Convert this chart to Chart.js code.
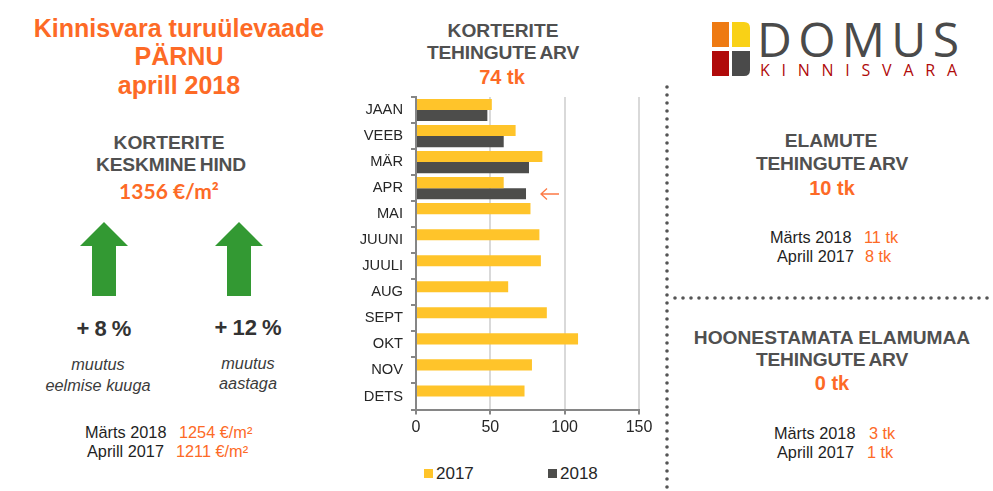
<!DOCTYPE html>
<html lang="et">
<head>
<meta charset="utf-8">
<title>Kinnisvara turuülevaade</title>
<script src="https://cdn.jsdelivr.net/npm/chart.js@4"></script>
<style>
html, body { margin: 0; padding: 0; background: #fff; width: 993px; height: 491px; overflow: hidden; }
body { position: relative; font-family: "Liberation Sans", Arial, sans-serif; color: #1f1f1f; }
.t { position: absolute; white-space: nowrap; transform: translate(-50%, -50%); line-height: 1; }
.l { position: absolute; white-space: nowrap; transform: translateY(-50%); line-height: 1; font-size: 16.300px; }
.o { color: #fd6a26; }
.h { font-size: 19.200px; font-weight: bold; color: #505050; }
.s { word-spacing: -1.500px; letter-spacing: -0.150px; }
.big { font-size: 25px; font-weight: bold; color: #fd6a26; }
.num { font-size: 20px; font-weight: bold; color: #fd6a26; }
.i { font-size: 16.300px; font-style: italic; color: #3b3b3b; }
.p { font-size: 22px; font-weight: bold; color: #333; word-spacing: -1px; }
#wrap { position: absolute; left: 340px; top: 85px; width: 320px; height: 360px; }
#art { position: absolute; left: 0; top: 0; }
#legend span.box { position: absolute; width: 9px; height: 9px; top: 469px; }
#legend span.lab { position: absolute; top: 473px; transform: translateY(-50%); font-size: 17px; line-height: 1; color: #262626; }
</style>
</head>
<body>
<svg id="art" width="993" height="491">
  <line x1="667" y1="87" x2="667" y2="491" stroke="#555" stroke-width="3.600" stroke-linecap="round" stroke-dasharray="0 8"/>
  <line x1="675" y1="298" x2="988" y2="298" stroke="#555" stroke-width="3.600" stroke-linecap="round" stroke-dasharray="0 8"/>
  <path d="M104 222 L128 246 L116 246 L116 296 L92 296 L92 246 L80 246 Z" fill="#339933"/>
  <path d="M239 222 L263 246 L251 246 L251 296 L227 296 L227 246 L215 246 Z" fill="#339933"/>
  <path d="M541 194 L559 194 M547 188.500 L541 194 L547 199.500" fill="none" stroke="#fd7a45" stroke-width="1.300"/>
  <rect x="712" y="22" width="17" height="25" fill="#ee7a12"/>
  <path d="M732 22 H744 Q750 22 750 28 V47 H732 Z" fill="#f9d116"/>
  <rect x="712" y="51" width="17" height="25" fill="#b00a0a"/>
  <path d="M732 51 H750 V70 Q750 76 744 76 H732 Z" fill="#4a4a4a"/>
  <text x="757" y="57" font-family="Open Sans" font-size="48" fill="#4a4a4a" textLength="202" lengthAdjust="spacing">DOMUS</text>
  <text x="760" y="76" font-family="Open Sans" font-size="16" fill="#b00a0a" textLength="197" lengthAdjust="spacing">KINNISVARA</text>
</svg>

<div class="t big" style="left:179px;top:28px">Kinnisvara turuülevaade</div>
<div class="t big" style="left:179px;top:56px">PÄRNU</div>
<div class="t big" style="left:179px;top:85px">aprill 2018</div>

<div class="t h" style="left:169px;top:143px">KORTERITE</div>
<div class="t h s" style="left:171px;top:165px">KESKMINE HIND</div>
<div class="t" style="left:169px;top:190px;font:bold 21px Lato;color:#fd6a26">1356 €/m²</div>

<div class="t p" style="left:104px;top:329px">+ 8 %</div>
<div class="t p" style="left:248px;top:328px">+ 12 %</div>
<div class="t i" style="left:98px;top:364px">muutus</div>
<div class="t i" style="left:98px;top:385px">eelmise kuuga</div>
<div class="t i" style="left:248px;top:363px">muutus</div>
<div class="t i" style="left:248px;top:383px">aastaga</div>

<div class="l" style="left:85px;top:432px">Märts 2018</div>
<div class="l o" style="left:179px;top:432px">1254 €/m²</div>
<div class="l" style="left:87px;top:451px">Aprill 2017</div>
<div class="l o" style="left:176px;top:451px">1211 €/m²</div>

<div class="t h" style="left:503px;top:31px">KORTERITE</div>
<div class="t h s" style="left:503px;top:53px">TEHINGUTE ARV</div>
<div class="t num" style="left:502px;top:77px">74 tk</div>

<div class="t h" style="left:831px;top:141px">ELAMUTE</div>
<div class="t h s" style="left:832px;top:164px">TEHINGUTE ARV</div>
<div class="t num" style="left:832px;top:188px">10 tk</div>
<div class="l" style="left:770px;top:237px">Märts 2018</div>
<div class="l o" style="left:864px;top:237px">11 tk</div>
<div class="l" style="left:777px;top:256px">Aprill 2017</div>
<div class="l o" style="left:865px;top:256px">8 tk</div>

<div class="t h" style="left:832px;top:338px">HOONESTAMATA ELAMUMAA</div>
<div class="t h s" style="left:832px;top:360px">TEHINGUTE ARV</div>
<div class="t num" style="left:832px;top:383px">0 tk</div>
<div class="l" style="left:774px;top:433px">Märts 2018</div>
<div class="l o" style="left:869px;top:433px">3 tk</div>
<div class="l" style="left:777px;top:452px">Aprill 2017</div>
<div class="l o" style="left:867px;top:452px">1 tk</div>

<div id="wrap"><canvas id="korterid" width="320" height="360"></canvas></div>
<div id="legend"></div>

<script>
const kuud = ['JAAN', 'VEEB', 'MÄR', 'APR', 'MAI', 'JUUNI', 'JUULI', 'AUG', 'SEPT', 'OKT', 'NOV', 'DETS'];
const tehingud2017 = [51, 67, 85, 59, 77, 83, 84, 62, 88, 109, 78, 73];
const tehingud2018 = [48, 59, 76, 74];
const xTicks = [0, 50, 100, 150];

const varvid = ['#ffc42a', '#4d4d4b'];

const korterid = new Chart(document.getElementById('korterid'), {
    type: 'bar',
    data: {
        labels: kuud,
        datasets: [
            { label: '2017', data: tehingud2017, backgroundColor: varvid[0] },
            { label: '2018', data: tehingud2018, backgroundColor: varvid[1] }
        ]
    },
    options: {
        indexAxis: 'y',
        responsive: false,
        animation: false,
        devicePixelRatio: 1,
        layout: { autoPadding: false, padding: { top: 12, right: 21, bottom: 0, left: 0 } },
        datasets: { bar: { categoryPercentage: 0.85, barPercentage: 1 } },
        plugins: { legend: { display: false }, tooltip: { enabled: false } },
        scales: {
            x: {
                min: 0,
                max: 150,
                afterBuildTicks: (scale) => { scale.ticks = xTicks.map((value) => ({ value })); },
                afterFit: (scale) => { scale.height = 35.5; },
                border: { color: '#868686', width: 2 },
                grid: { color: '#d9d9d9', lineWidth: 2, tickColor: '#868686', tickLength: 5 },
                ticks: { color: '#262626', font: { family: 'Liberation Sans', size: 16 }, padding: 3, maxRotation: 0 }
            },
            y: {
                afterFit: (scale) => { scale.width = 76; scale.paddingTop = 0; scale.paddingBottom = 0; },
                border: { color: '#868686', width: 2 },
                grid: { drawOnChartArea: false, color: '#868686', lineWidth: 2, tickLength: 5 },
                ticks: { color: '#262626', font: { family: 'Liberation Sans', size: 14.700 }, padding: 8, autoSkip: false }
            }
        }
    }
});

// legend sits lower than the canvas, built from the datasets
const legendX = [[424, 436], [548, 560]];
document.getElementById('legend').innerHTML = korterid.data.datasets.map((d, i) =>
    `<span class="box" style="left:${legendX[i][0]}px;background:${d.backgroundColor}"></span>` +
    `<span class="lab" style="left:${legendX[i][1]}px">${d.label}</span>`
).join('');
</script>
</body>
</html>
